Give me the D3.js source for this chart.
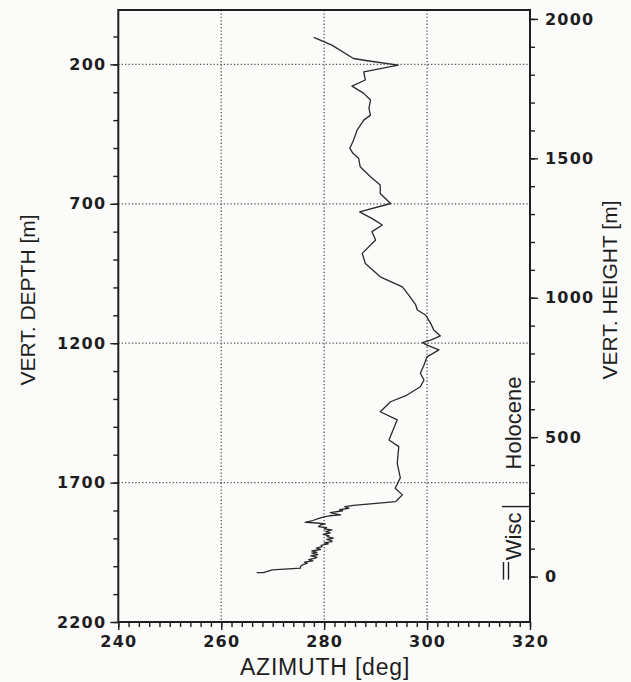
<!DOCTYPE html>
<html>
<head>
<meta charset="utf-8">
<script src="https://cdn.jsdelivr.net/npm/d3@7"></script>
<style>
  html, body { margin: 0; padding: 0; background: #fbfbfa; }
  svg { display: block; }
  .tick-label { font-family: "DejaVu Sans", sans-serif; font-weight: 700; font-size: 16px; letter-spacing: 1.2px; fill: #1e1e1e; }
  .title { font-family: "Liberation Sans", Arial, sans-serif; font-size: 21px; fill: #1e1e1e; }
</style>
</head>
<body>
<svg id="chart" width="631" height="682"></svg>
<script>
// Borehole azimuth profile: vertical depth (m) vs azimuth (deg)
const depth = [103, 131, 179, 187, 203, 227, 256, 278, 304, 328, 358, 382, 400, 436, 472, 501, 519, 537, 567, 603, 633, 663, 699,
  729, 755, 776, 800, 830, 878, 914, 962, 998, 1027, 1063, 1081, 1099, 1129, 1153, 1174, 1189, 1198, 1207, 1224, 1249, 1278, 1308,
  1332, 1356, 1386, 1410, 1446, 1475, 1547, 1571, 1631, 1683, 1720, 1744, 1768,
  1782, 1786, 1792, 1797, 1801, 1808, 1812, 1816, 1819, 1822, 1828, 1836, 1843, 1845, 1848, 1852, 1858, 1862, 1866, 1870, 1876,
  1880, 1886, 1890, 1894, 1899, 1904, 1908, 1912, 1916, 1920, 1925, 1930, 1935, 1940, 1945, 1950, 1953, 1958, 1963, 1967, 1971,
  1976, 1981, 1985, 1989, 1995, 2001, 2007, 2013, 2023, 2023];
const azimuth = [278.0, 281.5, 285.7, 288.4, 294.4, 287.7, 288.0, 285.4, 287.7, 289.0, 288.7, 289.0, 287.7, 286.4, 285.7, 285.0, 285.6, 286.7, 287.0, 289.0, 290.9, 290.9, 292.9,
  286.9, 289.5, 291.3, 289.3, 290.0, 287.4, 288.0, 290.9, 295.2, 296.4, 297.8, 298.1, 299.7, 300.7, 301.3, 302.6, 300.7, 299.1, 300.0, 302.3, 300.0, 299.4, 298.7,
  299.4, 298.7, 296.1, 292.9, 290.9, 294.2, 292.6, 294.5, 294.2, 294.8, 293.8, 295.2, 293.9,
  285.7, 284.0, 284.8, 283.0, 283.6, 281.2, 282.2, 283.2, 281.0, 280.2, 279.0, 277.8, 276.3, 278.5, 280.2, 279.3, 278.9, 280.5, 280.0, 281.5, 280.3,
  281.2, 279.8, 280.9, 280.6, 281.8, 280.5, 281.5, 281.5, 280.0, 280.8, 279.4, 279.6, 278.5, 279.3, 277.6, 278.6, 277.6, 278.8, 277.4, 278.6, 278.3,
  277.0, 277.8, 276.2, 276.7, 275.8, 275.4, 275.4, 269.9, 268.2, 266.9];

// Axis ticks
const depthMajor = [200, 700, 1200, 1700, 2200];
const depthMinor = d3.range(100, 2201, 100);
const heightMajor = [0, 500, 1000, 1500, 2000];
const heightMinor = d3.range(0, 2001, 100);
const azMajor = [240, 260, 280, 300, 320];
const azMinor = d3.range(240, 321, 2);
const gridAz = [260, 280, 300];
const gridDepth = [200, 700, 1200, 1700];

// Height above bed = bedrock depth - depth
const bedDepth = 2037;
const boundaryDepth = 1786;  // Holocene / Wisconsin transition

const plotLeft = 118.3, plotRight = 530, plotTop = 10, plotBottom = 622;
const svg = d3.select("#chart");

const x = d3.scaleLinear().domain([240, 320]).range([plotLeft, plotRight]);
const y = d3.scaleLinear().domain([5, 2200]).range([plotTop, plotBottom]);
const yH = d3.scaleLinear().domain([bedDepth - 5, bedDepth - 2200]).range([plotTop, plotBottom]);

const ink = "#1e1e1e";
const fmt = d3.format("d");

// dotted grid
const grid = svg.append("g").attr("stroke", "#555").attr("stroke-width", 1.3).attr("stroke-dasharray", "1.3,2.1");
grid.selectAll("line.v").data(gridAz).join("line").attr("class", "v")
  .attr("x1", d => x(d)).attr("x2", d => x(d)).attr("y1", plotTop).attr("y2", plotBottom);
grid.selectAll("line.h").data(gridDepth).join("line").attr("class", "h")
  .attr("x1", plotLeft).attr("x2", plotRight).attr("y1", d => y(d)).attr("y2", d => y(d));

// left axis (depth)
const gl = svg.append("g").attr("transform", `translate(${plotLeft},0)`)
  .call(d3.axisLeft(y).tickValues(depthMinor).tickSize(5).tickSizeOuter(0).tickFormat(""));
const glm = svg.append("g").attr("transform", `translate(${plotLeft},0)`)
  .call(d3.axisLeft(y).tickValues(depthMajor).tickSize(8).tickSizeOuter(0).tickPadding(4).tickFormat(fmt));
// right axis (height)
const gr = svg.append("g").attr("transform", `translate(${plotRight},0)`)
  .call(d3.axisRight(yH).tickValues(heightMinor).tickSize(5).tickSizeOuter(0).tickFormat(""));
const grm = svg.append("g").attr("transform", `translate(${plotRight},0)`)
  .call(d3.axisRight(yH).tickValues(heightMajor).tickSize(8).tickSizeOuter(0).tickPadding(7).tickFormat(fmt));
// bottom axis (azimuth)
const gb = svg.append("g").attr("transform", `translate(0,${plotBottom})`)
  .call(d3.axisBottom(x).tickValues(azMinor).tickSize(5).tickSizeOuter(0).tickFormat(""));
const gbm = svg.append("g").attr("transform", `translate(0,${plotBottom})`)
  .call(d3.axisBottom(x).tickValues(azMajor).tickSize(8).tickSizeOuter(0).tickPadding(3).tickFormat(fmt));

[gl, glm, gr, grm, gb, gbm].forEach(g => {
  g.select(".domain").remove();
  g.selectAll(".tick line").attr("stroke", ink).attr("stroke-width", 1.4);
  g.selectAll(".tick text").attr("class", "tick-label").attr("fill", ink);
});
gbm.selectAll(".tick text").attr("dy", "0.85em");

// frame
svg.append("rect").attr("x", plotLeft).attr("y", plotTop).attr("width", plotRight - plotLeft).attr("height", plotBottom - plotTop)
  .attr("fill", "none").attr("stroke", ink).attr("stroke-width", 2);

// azimuth profile
const pts = depth.map((d, i) => [azimuth[i], d]);
svg.append("path").datum(pts)
  .attr("fill", "none").attr("stroke", "#2a2a2a").attr("stroke-width", 1.3).attr("stroke-linejoin", "round")
  .attr("d", d3.line().x(p => x(p[0])).y(p => y(p[1])));

// climate period labels
const yb = y(boundaryDepth);
svg.append("line").attr("x1", 502).attr("x2", plotRight).attr("y1", yb).attr("y2", yb)
  .attr("stroke", ink).attr("stroke-width", 1.4);
[503.5, 508.5].forEach(px => {
  svg.append("line").attr("x1", px).attr("x2", px).attr("y1", y(1985)).attr("y2", y(2048))
    .attr("stroke", ink).attr("stroke-width", 1.4);
});
svg.append("text").attr("class", "title").style("font-size", "22px")
  .attr("transform", `translate(521,423) rotate(-90)`)
  .attr("text-anchor", "middle").text("Holocene");
svg.append("text").attr("class", "title").style("font-size", "22px")
  .attr("transform", `translate(521,${y(1893)}) rotate(-90)`)
  .attr("text-anchor", "middle").text("Wisc");

// axis titles
svg.append("text").attr("class", "title").attr("text-anchor", "middle")
  .style("font-size", "23px").style("letter-spacing", "0.8px")
  .attr("x", 325).attr("y", 675).text("AZIMUTH [deg]");
svg.append("text").attr("class", "title").attr("text-anchor", "middle")
  .attr("transform", `translate(35,300) rotate(-90)`).text("VERT. DEPTH [m]");
svg.append("text").attr("class", "title").attr("text-anchor", "middle")
  .attr("transform", `translate(617,290) rotate(-90)`).text("VERT. HEIGHT [m]");
</script>
</body>
</html>
